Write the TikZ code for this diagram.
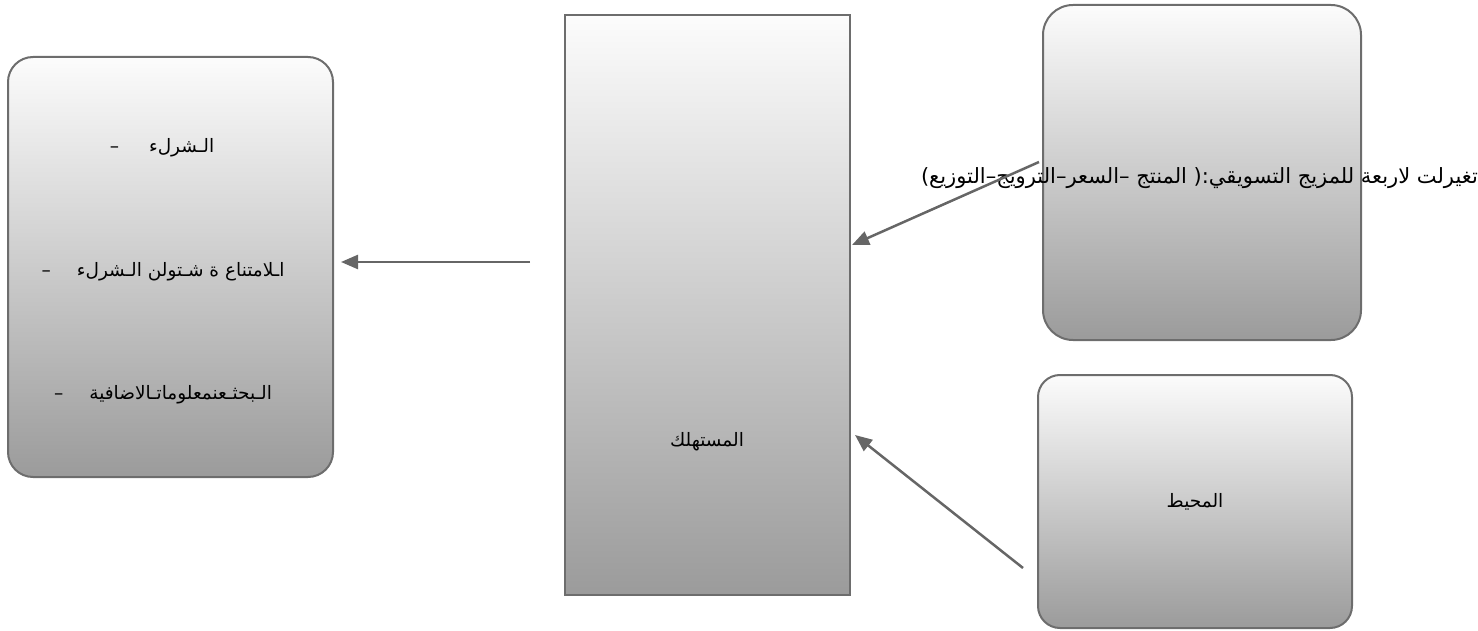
\documentclass[tikz,border=0pt]{standalone}
\usepackage{fontspec}
\usetikzlibrary{arrows.meta}
\TeXXeTstate=1
\newfontfamily\arabicfont[Script=Arabic]{DejaVu Sans}
\definecolor{edgec}{HTML}{6D6D6D}
\definecolor{arrowc}{HTML}{666666}
\definecolor{gtop}{HTML}{FCFCFC}
\definecolor{gbot}{HTML}{9B9B9B}
\tikzset{
  box/.style={draw=edgec, line width=2pt, top color=gtop, bottom color=gbot, inner sep=0pt},
  conn/.style={draw=arrowc, line width=2.5pt, -{Triangle[length=17pt,width=14pt]}},
  lbl/.style={font=\arabicfont\fontsize{18.5}{22}\selectfont, text=black, inner sep=0pt},
  toplbl/.style={font=\arabicfont\fontsize{21}{25}\selectfont, text=black, inner sep=0pt}
}
\begin{document}
\begin{tikzpicture}[x=1pt,y=-1pt]
\useasboundingbox (0,0) rectangle (1478,631);
% boxes
\node[box, rounded corners=25pt, minimum width=325pt, minimum height=420pt] (left) at (170.5,267) {};
\node[box, minimum width=285pt, minimum height=580pt] (cons) at (707.5,305) {};
\node[box, rounded corners=30pt, minimum width=318pt, minimum height=335pt] (mix) at (1202,172.5) {};
\node[box, rounded corners=22pt, minimum width=314pt, minimum height=253pt, lbl] (env) at (1195,501.5) {\beginR المحيط\endR};
% texts
\node[lbl] (l1) at (162,148) {\beginR الـشرلء\hspace{30pt}–\endR};
\node[lbl] (l2) at (163,272) {\beginR اـلامتناع ة شـتولن الـشرلء\hspace{26pt}–\endR};
\node[lbl] (l3) at (163,395) {\beginR الـبحثـعنمعلوماتـالاضافية\hspace{26pt}–\endR};
\node[lbl] (consl) at (707,442) {\beginR المستهلك\endR};
\node[toplbl, anchor=east] (mixl) at (1478,178) {\beginR تغيرلت لاربعة للمزيج التسويقي:( المنتج –السعر–الترويج–التوزيع)\endR};
% connectors
\coordinate (a1s) at (1039,162);
\coordinate (a1e) at (852,245);
\coordinate (a2s) at (1023,568);
\coordinate (a2e) at (855,435);
\coordinate (a3s) at (530,262);
\coordinate (a3e) at (341,262);
\draw[conn] (a1s) -- (a1e);
\draw[conn] (a2s) -- (a2e);
\draw[conn] (a3s) -- (a3e);
\end{tikzpicture}
\end{document}
